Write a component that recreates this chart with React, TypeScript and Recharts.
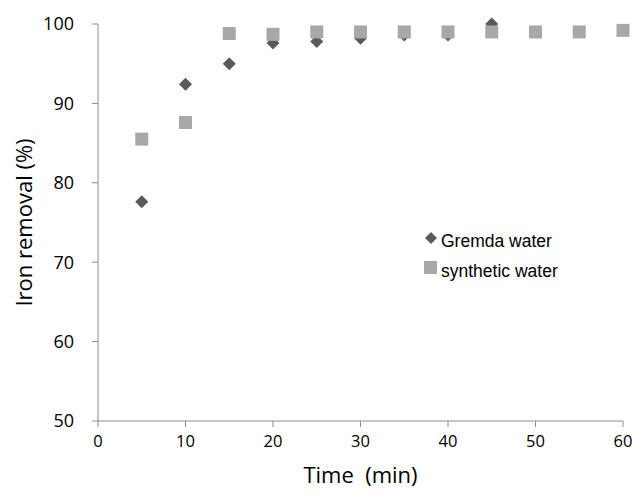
import React from "react"
import { ScatterChart, Scatter, XAxis, YAxis } from "recharts"

// time points (min)
const gremdaTimes = [5, 10, 15, 20, 25, 30, 35, 40, 45]
const gremdaRemoval = [77.6, 92.4, 95.0, 97.6, 97.8, 98.2, 98.6, 98.6, 100.0]

const syntheticTimes = [5, 10, 15, 20, 25, 30, 35, 40, 45, 50, 55, 60]
const syntheticRemoval = [85.5, 87.6, 98.8, 98.7, 99.0, 99.0, 99.0, 99.0, 99.0, 99.0, 99.0, 99.2]

const xTicks = [0, 10, 20, 30, 40, 50, 60]
const yTicks = [50, 60, 70, 80, 90, 100]

const gremdaData = gremdaTimes.map((t, i) => ({ t, v: gremdaRemoval[i] }))
const syntheticData = syntheticTimes.map((t, i) => ({ t, v: syntheticRemoval[i] }))

const DARK = "#5a5a5a"
const LIGHT = "#a8a8a8"
const AXIS = "#8c8c8c"
const TICK_FONT = "'Open Sans', sans-serif"

const Diamond = (props: any) => {
  const { cx, cy } = props
  const r = 6.5
  return <polygon points={`${cx},${cy - r} ${cx + r},${cy} ${cx},${cy + r} ${cx - r},${cy}`} fill={DARK} />
}

const Square = (props: any) => {
  const { cx, cy } = props
  const s = 13
  return <rect x={cx - s / 2} y={cy - s / 2} width={s} height={s} fill={LIGHT} />
}

// legend drawn as an overlay so it does not shrink the plot area
const LegendBox = () => (
  <div
    style={{
      position: "absolute",
      left: 424,
      top: 226,
      fontFamily: "'Liberation Sans', Arial, sans-serif",
      fontSize: 17.5,
      color: "#000",
    }}
  >
    <div style={{ display: "flex", alignItems: "center", height: 30 }}>
      <svg width={14} height={14} style={{ marginRight: 3, marginTop: -6 }}>
        <polygon points="7,1 13,7 7,13 1,7" fill={DARK} />
      </svg>
      <span>Gremda water</span>
    </div>
    <div style={{ display: "flex", alignItems: "center", height: 30 }}>
      <svg width={14} height={14} style={{ marginRight: 3, marginTop: -6 }}>
        <rect x={0} y={0} width={13} height={13} fill={LIGHT} />
      </svg>
      <span>synthetic water</span>
    </div>
  </div>
)

export default function App() {
  return (
    <div style={{ position: "absolute", left: 0, top: 0, width: 636, height: 494, background: "#fff" }}>
      <ScatterChart width={636} height={494} margin={{ top: 24, right: 13, bottom: 0, left: 0 }}>
        <XAxis
          type="number"
          dataKey="t"
          domain={[0, 60]}
          ticks={xTicks}
          height={73}
          stroke={AXIS}
          tickSize={6}
          tickMargin={8}
          tick={{ fill: "#000", fontSize: 16.5, fontFamily: TICK_FONT }}
          label={{ value: "Time\u00a0 (min)", position: "insideBottom", offset: 11, fill: "#000", fontSize: 22, fontFamily: TICK_FONT }}
        />
        <YAxis
          type="number"
          dataKey="v"
          domain={[50, 100]}
          ticks={yTicks}
          width={98}
          stroke={AXIS}
          tickSize={6}
          tickMargin={18}
          tick={{ fill: "#000", fontSize: 18, fontFamily: TICK_FONT }}
          label={{ value: "Iron removal (%)", angle: -90, position: "insideLeft", offset: 24, fill: "#000", fontSize: 22, fontFamily: TICK_FONT, style: { textAnchor: "middle" } }}
        />
        <Scatter name="Gremda water" data={gremdaData} shape={<Diamond />} isAnimationActive={false} />
        <Scatter name="synthetic water" data={syntheticData} shape={<Square />} isAnimationActive={false} />
      </ScatterChart>
      <LegendBox />
    </div>
  )
}
